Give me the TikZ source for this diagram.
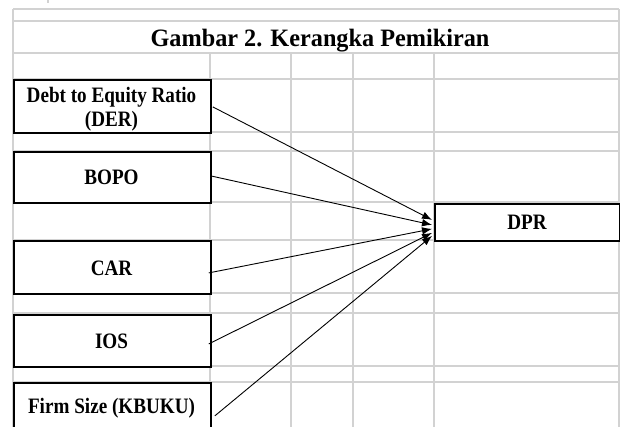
\documentclass[tikz,border=0pt]{standalone}
\usepackage{fontspec}
\usepackage{graphicx}
\setmainfont{Liberation Serif}
\usetikzlibrary{arrows.meta,calc}
\newcommand\cond[1]{\scalebox{0.87}[1]{#1}}
\begin{document}
\begin{tikzpicture}[x=1pt,y=-1pt,
  gridline/.style={draw=gray!35, line width=1.4pt},
  box/.style={draw=black, fill=white, line width=1.8pt, inner sep=0pt, anchor=north west, minimum width=197pt},
  lbl/.style={font=\fontsize{22}{26}\selectfont\bfseries, inner sep=0pt, anchor=base},
  arr/.style={-{Latex[length=10pt,width=7.5pt]}, line width=0.9pt}]
\useasboundingbox (0,0) rectangle (620,427);
\fill[white] (0,0) rectangle (620,427);
\begin{scope}
\clip (0,0) rectangle (620,427);
% spreadsheet grid
\foreach \yy in {9,21,53,79,132,151,202,240,293,313,366,382}
  \draw[gridline] (13,\yy) -- (619,\yy);
\foreach \xx in {13,619}
  \draw[gridline] (\xx,9) -- (\xx,430);
\foreach \xx in {210,291,353,434}
  \draw[gridline] (\xx,53) -- (\xx,430);
\draw[gridline] (48,0) -- (48,3);
% title
\node[font=\fontsize{25}{30}\selectfont\bfseries, anchor=base, inner sep=0pt] (title) at (320,47) {\scalebox{0.97}[1]{Gambar 2. Kerangka Pemikiran}};
% boxes
\node[box, minimum height=53pt] (der) at (13,79) {};
\node[box, minimum height=51pt] (bopo) at (13,151) {};
\node[box, minimum height=53pt] (car) at (13,240) {};
\node[box, minimum height=52pt] (ios) at (13,314) {};
\node[box, minimum height=70pt] (firm) at (13,382) {};
\node[box, minimum width=185pt, minimum height=37pt] (dpr) at (434,203) {};
% labels
\node[lbl] (tder1) at (111.5,103) {\cond{Debt to Equity Ratio}};
\node[lbl] (tder2) at (111.5,127) {\cond{(DER)}};
\node[lbl] (tbopo) at (111.5,185) {\cond{BOPO}};
\node[lbl] (tcar) at (111.5,275) {\cond{CAR}};
\node[lbl] (tios) at (111.5,348) {\cond{IOS}};
\node[lbl] (tfirm) at (111.5,413) {\cond{Firm Size (KBUKU)}};
\node[lbl] (tdpr) at (527,230) {\cond{DPR}};
% arrows
\draw[arr] ($(der.east)+(1,0.5)$) -- ($(dpr.west)+(-2,-2.5)$);
\draw[arr] ($(bopo.east)+(-1,-1.5)$) -- ($(dpr.west)+(-2,2.5)$);
\draw[arr] ($(car.east)+(-3,5.5)$) -- ($(dpr.west)+(-2,6.5)$);
\draw[arr] ($(ios.east)+(-3,3)$) -- ($(dpr.west)+(-2,10.5)$);
\draw[arr] ($(firm.east)+(3,-2)$) -- ($(dpr.west)+(-2,13.5)$);
\end{scope}
\end{tikzpicture}
\end{document}
